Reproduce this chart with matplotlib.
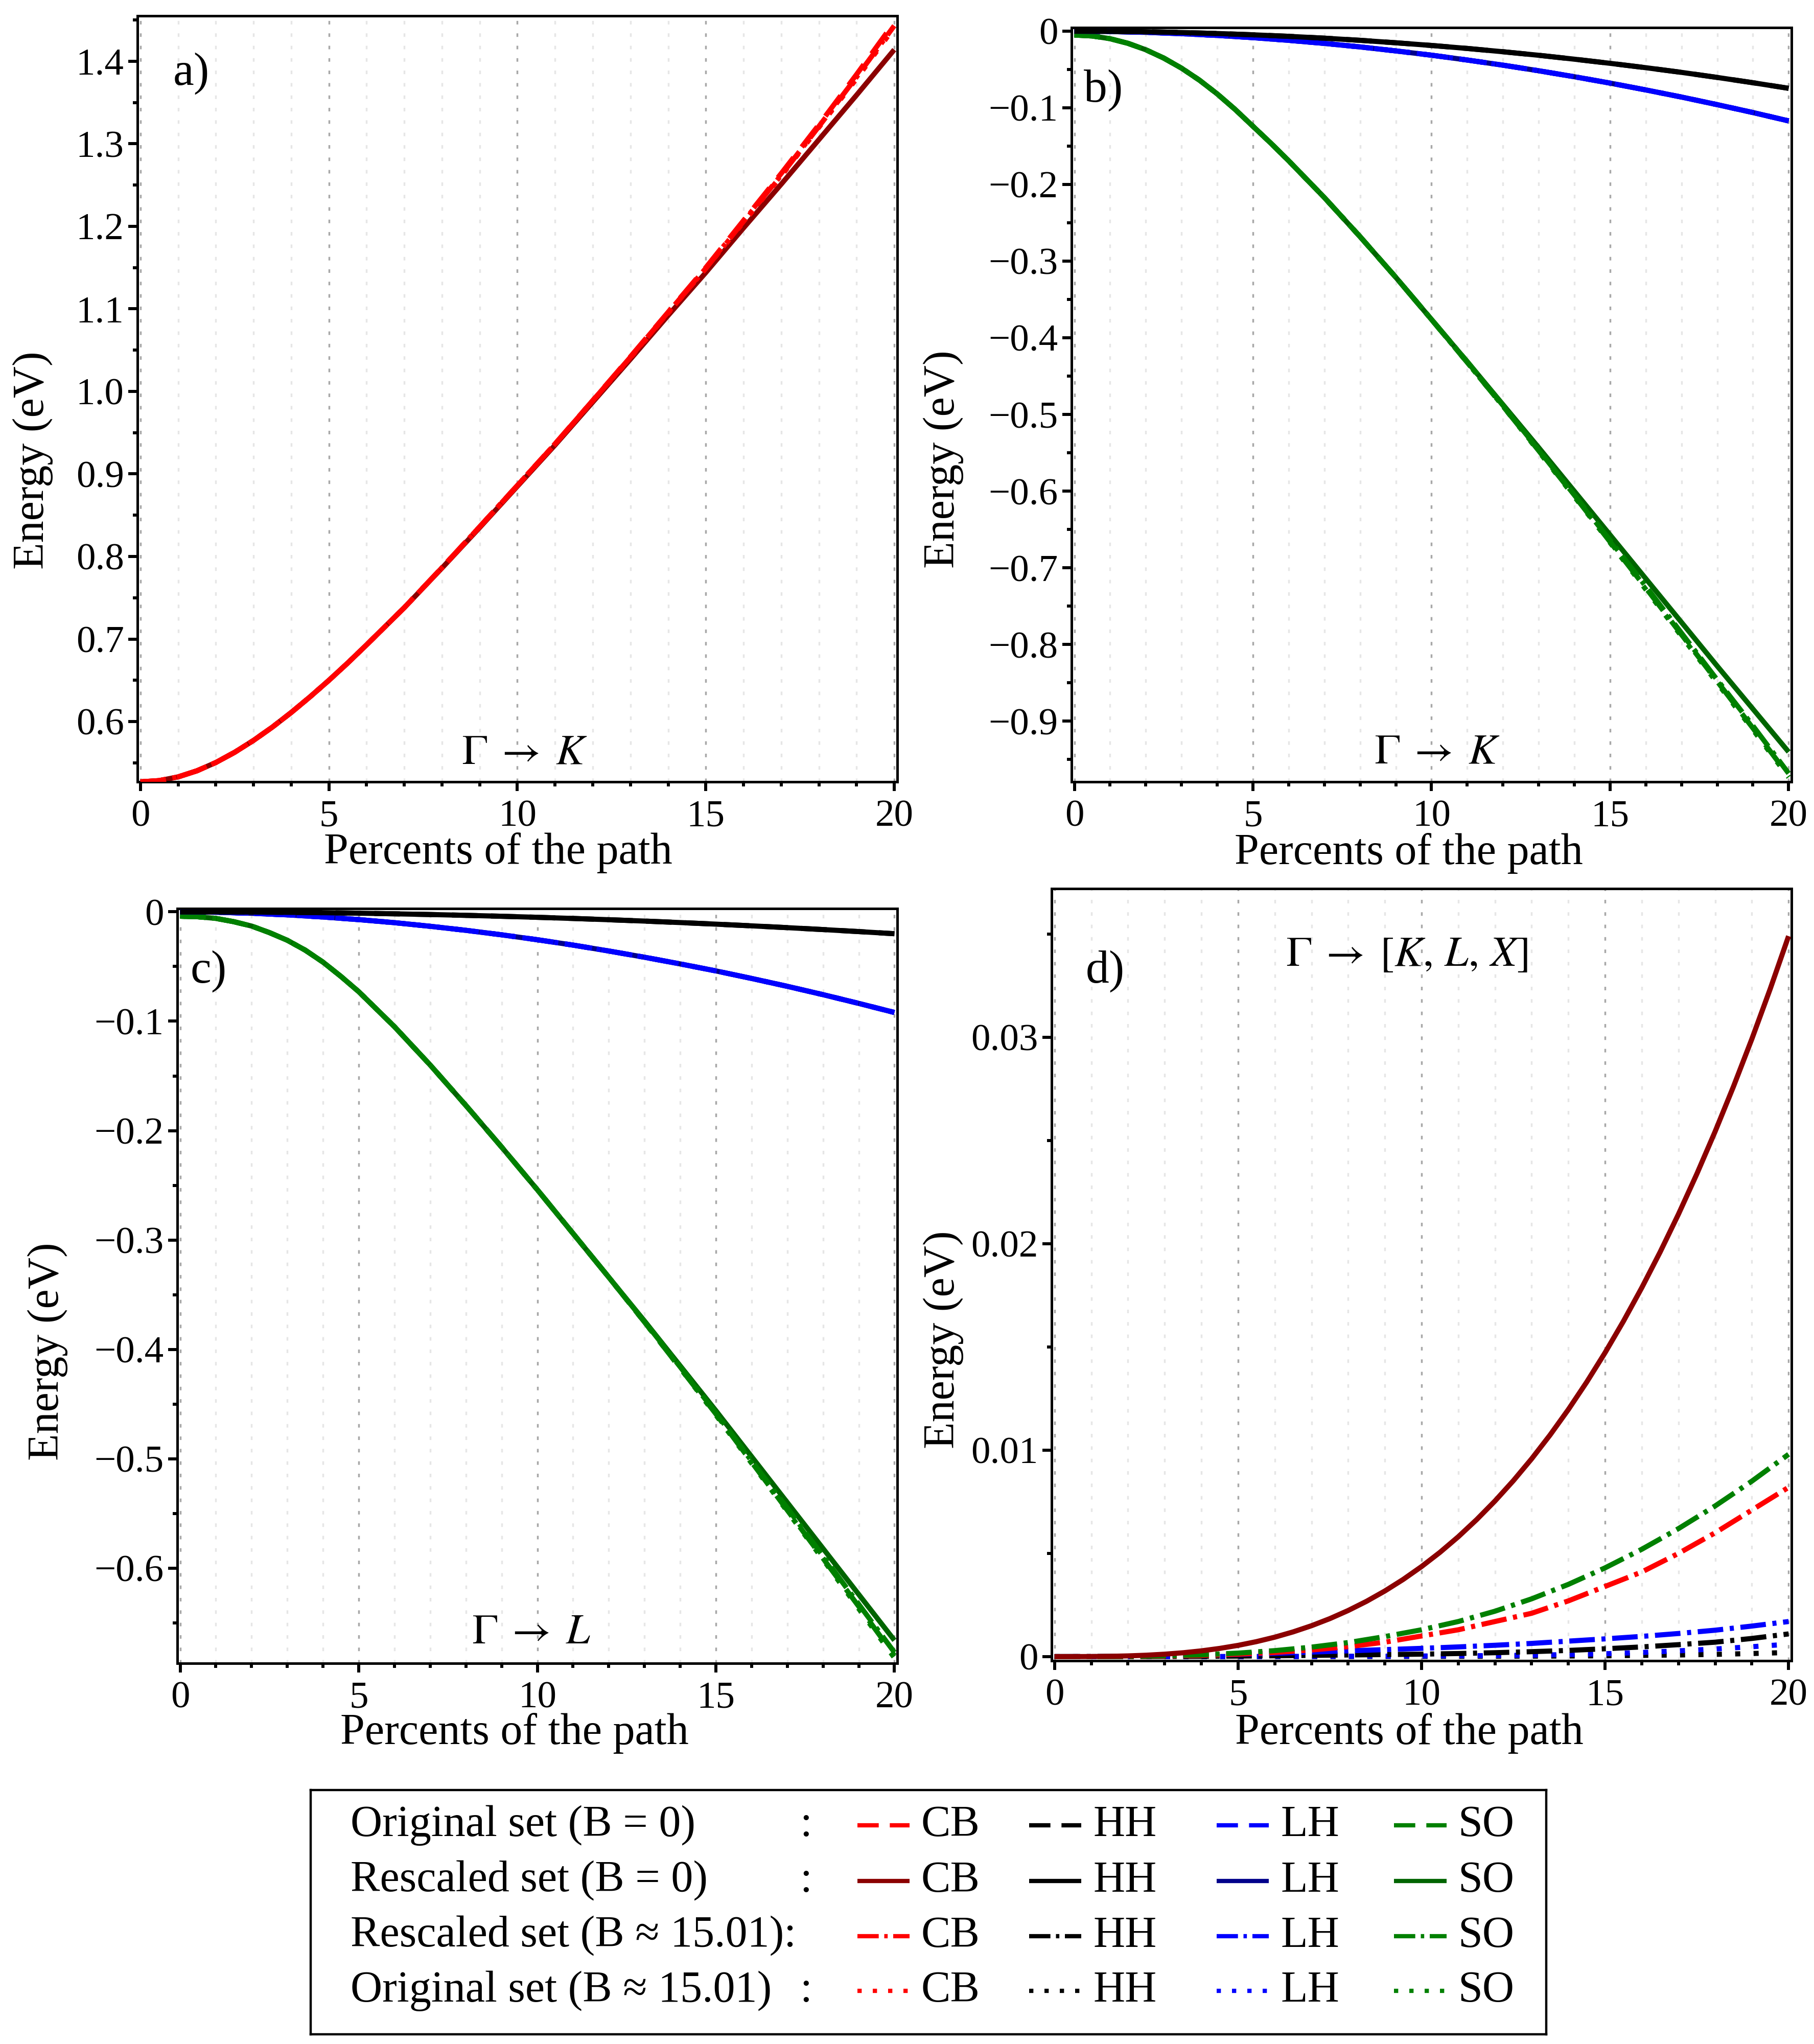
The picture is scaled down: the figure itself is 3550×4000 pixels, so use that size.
import matplotlib
matplotlib.use("Agg")
import matplotlib.pyplot as plt
from matplotlib.ticker import MultipleLocator, FixedLocator, FixedFormatter

plt.rcParams['font.family'] = ['Liberation Serif', 'DejaVu Serif']
plt.rcParams['mathtext.fontset'] = 'stix'
plt.rcParams['axes.unicode_minus'] = True

# ---------------- DATA ----------------
# x grids (percent of the path)
pct = [0, 1, 2, 3, 4, 5, 6, 7, 8, 9, 10, 11, 12, 13, 14, 15, 16, 17, 18, 19, 20]
pct_mixed = [0, 0.5, 1, 1.5, 2, 2.5, 3, 3.5, 4, 4.5, 5, 5.5, 6,
             7, 8, 9, 10, 11, 12, 13, 14, 15, 16, 17, 18, 19, 20]
pct_half = [0, 0.5, 1, 1.5, 2, 2.5, 3, 3.5, 4, 4.5, 5, 5.5, 6, 6.5, 7, 7.5, 8, 8.5, 9, 9.5, 10,
            10.5, 11, 11.5, 12, 12.5, 13, 13.5, 14, 14.5, 15, 15.5, 16, 16.5, 17, 17.5, 18, 18.5,
            19, 19.5, 20]

# a) Gamma -> K, conduction band (on pct_mixed)
a_cb_resc_b0 = [0.527, 0.5285, 0.533, 0.5404, 0.5504, 0.5628, 0.5772, 0.5933, 0.611, 0.630, 0.650,
                0.671, 0.693, 0.738, 0.786, 0.835, 0.885, 0.935, 0.987, 1.039, 1.092, 1.144, 1.198,
                1.251, 1.305, 1.359, 1.414]
a_cb_orig_b0 = [0.527, 0.5285, 0.533, 0.5404, 0.5504, 0.5628, 0.5772, 0.5933, 0.611, 0.630, 0.650,
                0.671, 0.693, 0.738, 0.7865, 0.836, 0.886, 0.9365, 0.989, 1.042, 1.096, 1.150, 1.207,
                1.264, 1.323, 1.384, 1.447]
a_cb_resc_b15 = [0.527, 0.5285, 0.533, 0.5404, 0.5504, 0.5628, 0.5772, 0.5933, 0.611, 0.630, 0.650,
                 0.671, 0.693, 0.738, 0.7865, 0.836, 0.886, 0.9363, 0.9888, 1.0415, 1.0955, 1.149,
                 1.206, 1.262, 1.321, 1.381, 1.443]
a_cb_orig_b15 = [0.527, 0.5285, 0.533, 0.5404, 0.5504, 0.5628, 0.5772, 0.5933, 0.611, 0.630, 0.650,
                 0.671, 0.693, 0.738, 0.7865, 0.836, 0.886, 0.9362, 0.9886, 1.041, 1.095, 1.149,
                 1.205, 1.261, 1.320, 1.379, 1.441]

# b) Gamma -> K, valence bands (HH, LH on pct; SO on pct_mixed)
b_hh = [0, -0.0002, -0.0007, -0.0017, -0.0030, -0.0047, -0.0067, -0.0091, -0.0119, -0.0151, -0.0186,
        -0.0225, -0.0268, -0.0314, -0.0365, -0.0419, -0.0476, -0.0537, -0.0603, -0.0672, -0.0745]
b_lh = [0, -0.0004, -0.0015, -0.0032, -0.0055, -0.0084, -0.0119, -0.0159, -0.0205, -0.0257, -0.0313,
        -0.0376, -0.0443, -0.0516, -0.0594, -0.0677, -0.0766, -0.0859, -0.0958, -0.1061, -0.117]
b_so_resc_b0 = [-0.005, -0.0062, -0.0098, -0.0158, -0.0242, -0.035, -0.0482, -0.0638, -0.0818, -0.102,
                -0.124, -0.146, -0.169, -0.217, -0.268, -0.321, -0.376, -0.431, -0.487, -0.543,
                -0.600, -0.657, -0.714, -0.771, -0.828, -0.884, -0.940]
b_so_orig_b0 = [-0.005, -0.0062, -0.0098, -0.0158, -0.0242, -0.035, -0.0482, -0.0638, -0.0818, -0.102,
                -0.124, -0.146, -0.169, -0.217, -0.268, -0.321, -0.376, -0.432, -0.489, -0.547,
                -0.606, -0.666, -0.726, -0.787, -0.848, -0.909, -0.971]
b_so_resc_b15 = [-0.005, -0.0062, -0.0098, -0.0158, -0.0242, -0.035, -0.0482, -0.0638, -0.0818, -0.102,
                 -0.124, -0.146, -0.169, -0.217, -0.268, -0.321, -0.376, -0.431, -0.488, -0.546,
                 -0.605, -0.664, -0.724, -0.785, -0.846, -0.906, -0.968]
b_so_orig_b15 = [-0.005, -0.0062, -0.0098, -0.0158, -0.0242, -0.035, -0.0482, -0.0638, -0.0818, -0.102,
                 -0.124, -0.146, -0.169, -0.217, -0.268, -0.321, -0.376, -0.432, -0.489, -0.548,
                 -0.607, -0.667, -0.728, -0.789, -0.850, -0.911, -0.973]

# c) Gamma -> L, valence bands (HH, LH on pct; SO on pct_mixed)
c_hh = [0, -0.00005, -0.0002, -0.00045, -0.0008, -0.00125, -0.0018, -0.00245, -0.0032, -0.00405, -0.005,
        -0.00605, -0.0072, -0.00845, -0.0098, -0.01125, -0.0128, -0.01445, -0.0162, -0.01805, -0.020]
c_lh = [0, -0.00036, -0.0013, -0.00275, -0.0047, -0.0071, -0.0099, -0.0132, -0.0169, -0.0210, -0.0255,
        -0.0304, -0.0358, -0.0415, -0.0476, -0.0540, -0.0609, -0.0681, -0.0757, -0.0837, -0.092]
c_so_resc_b0 = [-0.004, -0.0045, -0.006, -0.009, -0.013, -0.019, -0.026, -0.035, -0.046, -0.059,
                -0.073, -0.089, -0.105, -0.140, -0.177, -0.215, -0.254, -0.294, -0.334, -0.374,
                -0.415, -0.456, -0.498, -0.540, -0.582, -0.624, -0.666]
c_so_orig_b0 = [-0.004, -0.0045, -0.006, -0.009, -0.013, -0.019, -0.026, -0.035, -0.046, -0.059,
                -0.073, -0.089, -0.105, -0.140, -0.177, -0.215, -0.254, -0.294, -0.334, -0.375,
                -0.417, -0.459, -0.503, -0.547, -0.591, -0.635, -0.680]
c_so_resc_b15 = [-0.004, -0.0045, -0.006, -0.009, -0.013, -0.019, -0.026, -0.035, -0.046, -0.059,
                 -0.073, -0.089, -0.105, -0.140, -0.177, -0.215, -0.254, -0.294, -0.334, -0.3745,
                 -0.416, -0.458, -0.502, -0.545, -0.589, -0.633, -0.677]
c_so_orig_b15 = [-0.004, -0.0045, -0.006, -0.009, -0.013, -0.019, -0.026, -0.035, -0.046, -0.059,
                 -0.073, -0.089, -0.105, -0.140, -0.177, -0.215, -0.254, -0.294, -0.334, -0.375,
                 -0.417, -0.460, -0.504, -0.548, -0.592, -0.637, -0.682]

# d) Gamma -> [K, L, X]  (CB rescaled B=0 on pct_half, the rest on pct)
d_cb_resc_b0 = [0, 0.0000005, 0.0000044, 0.0000147, 0.0000349, 0.0000682, 0.000118, 0.000187, 0.000279,
                0.000398, 0.000545, 0.000726, 0.000942, 0.001198, 0.001496, 0.00184, 0.002234, 0.002679,
                0.00318, 0.00374, 0.004363, 0.00505, 0.005806, 0.006635, 0.007538, 0.00852, 0.009584,
                0.010733, 0.011971, 0.0133, 0.014723, 0.016245, 0.017869, 0.019597, 0.021433, 0.02338,
                0.025442, 0.027622, 0.029922, 0.032347, 0.0349]
d_so_resc_b15 = [0, 0.0000015, 0.000012, 0.00004, 0.00009, 0.00017, 0.00029, 0.00046, 0.00068, 0.00097, 0.0013,
                 0.0017, 0.0022, 0.0028, 0.0035, 0.0043, 0.0052, 0.0062, 0.0073, 0.0085, 0.0098]
d_cb_resc_b15 = [0, 0.000001, 0.000008, 0.000026, 0.00006, 0.00012, 0.0002, 0.00032, 0.00048, 0.0007, 0.001,
                 0.0013, 0.0017, 0.0021, 0.0027, 0.0034, 0.0041, 0.0050, 0.0060, 0.0071, 0.0082]
d_lh_resc_b15 = [0, 0.000004, 0.000018, 0.00004, 0.00007, 0.00011, 0.00016, 0.00022, 0.00028, 0.00034, 0.0004,
                 0.00047, 0.00055, 0.00064, 0.00075, 0.00086, 0.00098, 0.00112, 0.00128, 0.00148, 0.0017]
d_hh_resc_b15 = [0, 0, 0.000002, 0.000006, 0.000013, 0.000025, 0.00004, 0.00006, 0.00008, 0.0001, 0.00012,
                 0.00015, 0.00019, 0.00024, 0.0003, 0.00038, 0.00047, 0.00058, 0.0007, 0.00088, 0.0011]
d_lh_orig_b15 = [0, 0, 0, 0.000001, 0.000002, 0.000004, 0.000007, 0.00001, 0.000015, 0.00002, 0.00003,
                 0.00004, 0.00005, 0.00007, 0.0001, 0.00014, 0.0002, 0.00028, 0.00037, 0.00048, 0.0006]
d_hh_orig_b15 = [0, 0, 0, 0, 0.000001, 0.000001, 0.000002, 0.000003, 0.000005, 0.000007, 0.00001,
                 0.000013, 0.000017, 0.000023, 0.00003, 0.00004, 0.00006, 0.00008, 0.00011, 0.00015, 0.0002]

# tick labels
a_yticks = [0.6, 0.7, 0.8, 0.9, 1.0, 1.1, 1.2, 1.3, 1.4]
a_yticklabels = ["0.6", "0.7", "0.8", "0.9", "1.0", "1.1", "1.2", "1.3", "1.4"]
b_yticks = [0, -0.1, -0.2, -0.3, -0.4, -0.5, -0.6, -0.7, -0.8, -0.9]
b_yticklabels = ["0", "\u22120.1", "\u22120.2", "\u22120.3", "\u22120.4", "\u22120.5",
                 "\u22120.6", "\u22120.7", "\u22120.8", "\u22120.9"]
c_yticks = [0, -0.1, -0.2, -0.3, -0.4, -0.5, -0.6]
c_yticklabels = ["0", "\u22120.1", "\u22120.2", "\u22120.3", "\u22120.4", "\u22120.5", "\u22120.6"]
d_yticks = [0, 0.01, 0.02, 0.03]
d_yticklabels = ["0", "0.01", "0.02", "0.03"]
x_ticks = [0, 5, 10, 15, 20]
x_ticklabels = ["0", "5", "10", "15", "20"]

legend_rows = ["Original set (B = 0)", "Rescaled set (B = 0)",
               "Rescaled set (B \u2248 15.01):", "Original set (B \u2248 15.01)"]
band_names = ["CB", "HH", "LH", "SO"]

# ---------------- STYLE ----------------
RED, DRED = "#ff0000", "#8b0000"
BLK = "#000000"
BLU, NAVY = "#0000ff", "#00008b"
GRN, DGRN = "#008000", "#006400"

SOLID = "-"
DASHED = (0, (5, 2.6))
DASHDOT = (0, (5, 1.3, 0.8, 1.3))
DOTTED = (0, (1.0, 2.6))
LW = 7.2

row_styles = [DASHED, SOLID, DASHDOT, DOTTED]
row_colors = [[RED, BLK, BLU, GRN], [DRED, BLK, NAVY, DGRN],
              [RED, BLK, BLU, GRN], [RED, BLK, BLU, GRN]]

TICK_FS = 54
LABEL_FS = 62
LETTER_FS = 66

fig = plt.figure(figsize=(35.5, 40), dpi=100)


def style_axes(ax, ylim, yticks, yticklabels, yminor):
    ax.set_xlim(-0.08, 20.08)
    ax.set_ylim(*ylim)
    ax.xaxis.set_major_locator(FixedLocator(x_ticks))
    ax.xaxis.set_major_formatter(FixedFormatter(x_ticklabels))
    ax.xaxis.set_minor_locator(MultipleLocator(1))
    ax.yaxis.set_major_locator(FixedLocator(yticks))
    ax.yaxis.set_major_formatter(FixedFormatter(yticklabels))
    ax.yaxis.set_minor_locator(MultipleLocator(yminor))
    ax.set_axisbelow(True)
    ax.grid(which='major', axis='x', color='#a8a8a8', linestyle=(0, (2.0, 5.0)), linewidth=2.5)
    ax.grid(which='minor', axis='x', color='#e6e6e6', linestyle=(0, (2.0, 5.0)), linewidth=2.5)
    ax.tick_params(which='major', direction='out', length=13, width=4.3, labelsize=TICK_FS,
                   top=False, right=False)
    ax.tick_params(which='minor', direction='out', length=6.5, width=4.3, top=False, right=False)
    ax.tick_params(axis='x', which='major', pad=12)
    ax.tick_params(axis='y', which='major', pad=6)
    for sp in ax.spines.values():
        sp.set_linewidth(3.6)


def labels(ax, xl, yl, letter, letter_pos):
    ax.set_xlabel("Percents of the path", fontsize=LABEL_FS, va='center')
    ax.xaxis.set_label_coords(*xl)
    ax.set_ylabel("Energy (eV)", fontsize=LABEL_FS, va='center')
    ax.yaxis.set_label_coords(*yl)
    ax.text(letter_pos[0], letter_pos[1], letter, transform=ax.transAxes,
            fontsize=LETTER_FS, ha='left', va='center')


def curve(ax, x, y, color, ls, z):
    ax.plot(x, y, color=color, linestyle=ls, linewidth=LW,
            solid_capstyle='butt', dash_capstyle='butt', solid_joinstyle='round', zorder=z)


# ---- a ----
ax = fig.add_axes([0.07577, 0.6175, 0.41887, 0.37475])
style_axes(ax, (0.527, 1.455), a_yticks, a_yticklabels, 0.05)
curve(ax, pct_mixed, a_cb_resc_b0, DRED, SOLID, 2)
curve(ax, pct_mixed, a_cb_orig_b15, RED, DOTTED, 3)
curve(ax, pct_mixed, a_cb_resc_b15, RED, DASHDOT, 4)
curve(ax, pct_mixed, a_cb_orig_b0, RED, DASHED, 5)
labels(ax, (0.475, -0.093), (-0.138, 0.42), "a)", (0.047, 0.925))
ax.text(0.51, 0.037, r"$\Gamma\;\rightarrow\;K$", transform=ax.transAxes,
        fontsize=60, ha='center', va='center')

# ---- b ----
ax = fig.add_axes([0.59070, 0.6175, 0.39690, 0.369])
style_axes(ax, (-0.979, 0.0047), b_yticks, b_yticklabels, 0.05)
curve(ax, pct_mixed, b_so_resc_b0, DGRN, SOLID, 2)
curve(ax, pct_mixed, b_so_orig_b15, GRN, DOTTED, 3)
curve(ax, pct_mixed, b_so_resc_b15, GRN, DASHDOT, 4)
curve(ax, pct_mixed, b_so_orig_b0, GRN, DASHED, 5)
curve(ax, pct, b_lh, NAVY, SOLID, 2)
curve(ax, pct, b_lh, BLU, DOTTED, 3)
curve(ax, pct, b_lh, BLU, DASHDOT, 4)
curve(ax, pct, b_lh, BLU, DASHED, 5)
curve(ax, pct, b_hh, BLK, SOLID, 6)
curve(ax, pct, b_hh, BLK, DASHED, 6)
labels(ax, (0.468, -0.095), (-0.178, 0.428), "b)", (0.017, 0.917))
ax.text(0.508, 0.038, r"$\Gamma\;\rightarrow\;K$", transform=ax.transAxes,
        fontsize=60, ha='center', va='center')

# ---- c ----
ax = fig.add_axes([0.09775, 0.18625, 0.39690, 0.36925])
style_axes(ax, (-0.687, 0.003), c_yticks, c_yticklabels, 0.05)
curve(ax, pct_mixed, c_so_resc_b0, DGRN, SOLID, 2)
curve(ax, pct_mixed, c_so_orig_b15, GRN, DOTTED, 3)
curve(ax, pct_mixed, c_so_resc_b15, GRN, DASHDOT, 4)
curve(ax, pct_mixed, c_so_orig_b0, GRN, DASHED, 5)
curve(ax, pct, c_lh, NAVY, SOLID, 2)
curve(ax, pct, c_lh, BLU, DOTTED, 3)
curve(ax, pct, c_lh, BLU, DASHDOT, 4)
curve(ax, pct, c_lh, BLU, DASHED, 5)
curve(ax, pct, c_hh, BLK, SOLID, 6)
curve(ax, pct, c_hh, BLK, DASHED, 6)
labels(ax, (0.468, -0.093), (-0.18, 0.413), "c)", (0.018, 0.917))
ax.text(0.492, 0.04, r"$\Gamma\;\rightarrow\;L$", transform=ax.transAxes,
        fontsize=60, ha='center', va='center')

# ---- d ----
ax = fig.add_axes([0.57972, 0.1875, 0.40789, 0.37775])
style_axes(ax, (-0.0002, 0.0372), d_yticks, d_yticklabels, 0.005)
curve(ax, pct, d_hh_orig_b15, BLK, DOTTED, 3)
curve(ax, pct, d_lh_orig_b15, BLU, DOTTED, 3)
curve(ax, pct, d_hh_resc_b15, BLK, DASHDOT, 4)
curve(ax, pct, d_lh_resc_b15, BLU, DASHDOT, 4)
curve(ax, pct, d_cb_resc_b15, RED, DASHDOT, 4)
curve(ax, pct, d_so_resc_b15, GRN, DASHDOT, 4)
curve(ax, pct_half, d_cb_resc_b0, DRED, SOLID, 5)
labels(ax, (0.483, -0.094), (-0.146, 0.416), "d)", (0.046, 0.893))
ax.text(0.48, 0.913, r"$\Gamma\;\rightarrow\;[K,\,L,\,X]$", transform=ax.transAxes,
        fontsize=60, ha='center', va='center')

# ---- legend box ----
lg = fig.add_axes([0.17127, 0.00475, 0.68113, 0.1195])
lg.set_xlim(0, 1)
lg.set_ylim(0, 1)
lg.set_xticks([])
lg.set_yticks([])
for sp in lg.spines.values():
    sp.set_linewidth(3.2)
row_y = [0.856, 0.628, 0.402, 0.178]
swatch_x = [(0.4425, 0.4847), (0.5815, 0.6237), (0.7333, 0.7754), (0.8768, 0.9194)]
name_x = [0.4942, 0.6332, 0.785, 0.9284]
for r, (txt, yy) in enumerate(zip(legend_rows, row_y)):
    lg.text(0.0323, yy, txt, fontsize=LABEL_FS, ha='left', va='center')
    if not txt.endswith(":"):
        lg.text(0.396, yy, ":", fontsize=LABEL_FS, ha='left', va='center')
    for b, name in enumerate(band_names):
        lg.plot(swatch_x[b], [yy, yy], color=row_colors[r][b], linestyle=row_styles[r],
                linewidth=6, solid_capstyle='butt', dash_capstyle='butt')
        lg.text(name_x[b], yy, name, fontsize=LABEL_FS, ha='left', va='center')

fig.savefig("out.png", dpi=100)
